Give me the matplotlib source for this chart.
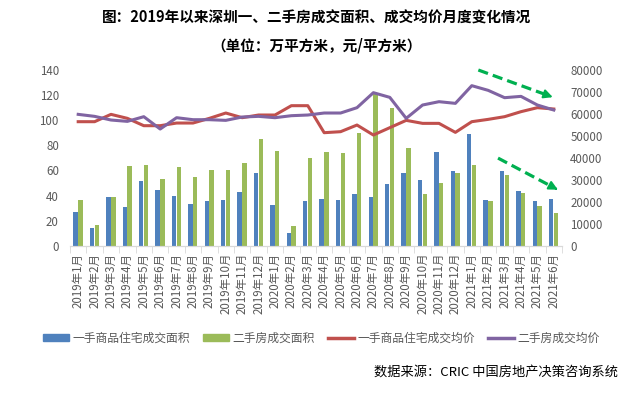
import numpy as np
import matplotlib
matplotlib.use('Agg')
import matplotlib.pyplot as plt
from matplotlib.patches import Patch
from matplotlib.lines import Line2D

plt.rcParams['font.family'] = ['Noto Sans CJK SC', 'DejaVu Sans']

months = ["2019年%d月" % m for m in range(1, 13)] + \
         ["2020年%d月" % m for m in range(1, 13)] + \
         ["2021年%d月" % m for m in range(1, 7)]

# 一手商品住宅成交面积 (万平方米)
new_area = [26.8, 14.1, 38.8, 30.8, 51.5, 44.4, 39.6, 33.2, 35.6, 36.4, 42.8, 57.9,
            32.4, 10.1, 35.6, 37.2, 36.4, 41.2, 38.8, 49.2, 57.9, 52.3, 74.7, 59.5,
            89.0, 36.4, 59.5, 43.6, 35.6, 37.2]
# 二手房成交面积 (万平方米)
second_area = [36.4, 16.5, 38.8, 63.5, 64.3, 53.1, 62.7, 54.7, 60.3, 60.3, 65.9, 85.0,
               75.5, 15.7, 69.9, 74.7, 73.9, 89.8, 120.9, 109.7, 77.8, 41.2, 49.9, 57.9,
               64.3, 35.6, 56.3, 42.0, 31.6, 26.0]
# 一手商品住宅成交均价 (元/平方米)
new_price = [56470, 56470, 59810, 57990, 54650, 54650, 55860, 55860, 57990, 60420, 58290, 59510,
             59510, 63760, 63760, 51460, 51920, 54950, 50400, 53740, 57080, 55710, 55710, 51610,
             56470, 57530, 58750, 61030, 62850, 62240]
# 二手房成交均价 (元/平方米)
second_price = [59810, 58900, 57230, 56620, 58750, 53130, 58290, 57380, 57380, 57080, 58600, 58900,
                58290, 59200, 59510, 60420, 60420, 62850, 69680, 67550, 57990, 64060, 65580, 64820,
                72870, 70740, 67400, 68000, 64060, 61780]

c_blue = '#4F81BD'
c_green = '#9BBB59'
c_red = '#C0504D'
c_purple = '#8064A2'
c_text = '#595959'
c_arrow = '#00B050'

fig = plt.figure(figsize=(6.34, 3.96), dpi=100)
ax = fig.add_axes([0.1104, 0.3795, 0.776, 0.4437])
ax2 = ax.twinx()

x = np.arange(len(months))
w = 0.27
ax.bar(x - 0.16, new_area, width=w, color=c_blue, zorder=2)
ax.bar(x + 0.14, second_area, width=w, color=c_green, zorder=2)

ax2.plot(x, new_price, color=c_red, lw=2.2, solid_joinstyle='round')
ax2.plot(x, second_price, color=c_purple, lw=2.2, solid_joinstyle='round')

ax.set_xlim(-0.5, len(months) - 0.5)
ax.set_ylim(0, 140)
ax.set_yticks(range(0, 141, 20))
ax2.set_ylim(0, 80000)
ax2.set_yticks(range(0, 80001, 10000))

ax.set_xticks(x)
ax.set_xticklabels(months, rotation=90, fontsize=8.3, color=c_text)
ax.set_xticks(np.arange(-0.5, len(months), 1), minor=True)
ax.tick_params(axis='x', which='major', length=0, pad=5)
ax.tick_params(axis='x', which='minor', length=5, color='#D9D9D9')
ax.tick_params(axis='y', length=0, labelsize=8.3, labelcolor=c_text, pad=8)
ax2.tick_params(axis='y', length=0, labelsize=8.3, labelcolor=c_text, pad=6)

for a in (ax, ax2):
    for s in ('top', 'left', 'right'):
        a.spines[s].set_visible(False)
    a.spines['bottom'].set_color('#D9D9D9')

# trend arrows
for (x0, y0), (x1, y1) in [((24.4, 80000), (29.1, 67200)), ((25.6, 39900), (29.4, 24900))]:
    fx = x0 + (x1 - x0) * 0.88
    fy = y0 + (y1 - y0) * 0.88
    ax2.plot([x0, fx], [y0, fy], color=c_arrow, lw=2.3, ls=(0, (3.2, 1.6)), clip_on=False)
    ax2.annotate('', xy=(x1, y1), xytext=(fx, fy),
                 arrowprops=dict(arrowstyle='-|>', color=c_arrow, lw=1.5, mutation_scale=13),
                 annotation_clip=False)

fig.text(0.5, 0.975, "图：2019年以来深圳一、二手房成交面积、成交均价月度变化情况",
         ha='center', va='top', fontsize=10.5, fontweight='bold', color='black')
fig.text(0.5, 0.905, "（单位：万平方米，元/平方米）",
         ha='center', va='top', fontsize=10.5, fontweight='bold', color='black')

handles = [Patch(color=c_blue), Patch(color=c_green),
           Line2D([], [], color=c_red, lw=2.5), Line2D([], [], color=c_purple, lw=2.5)]
labels = ["一手商品住宅成交面积", "二手房成交面积", "一手商品住宅成交均价", "二手房成交均价"]
fig.legend(handles, labels, loc='center', bbox_to_anchor=(0.507, 0.146), ncol=4, frameon=False,
           fontsize=8.5, labelcolor=c_text, handlelength=2.2, handleheight=0.6,
           columnspacing=1.1, handletextpad=0.3)

fig.text(0.975, 0.06, "数据来源：CRIC 中国房地产决策咨询系统", ha='right', va='center',
         fontsize=9.5, color='black')

fig.savefig('out.png', dpi=100)
